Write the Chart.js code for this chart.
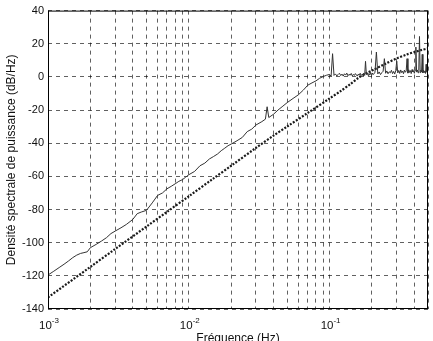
<!DOCTYPE html>
<html>
<head>
<meta charset="utf-8">
<script src="https://cdn.jsdelivr.net/npm/chart.js@4"></script>
<style>
  body { margin: 0; background: #fff; }
  canvas { display: block; }
</style>
</head>
<body>
<canvas id="dspChart" width="433" height="341"></canvas>
<script>
// Fréquences (Hz) et DSP mesurée (dB/Hz) - trait continu
const freqSolid = [
  0.0010, 0.0011, 0.0012, 0.0013, 0.0014, 0.0015, 0.0016, 0.0017, 0.0018, 0.0019,
  0.0020, 0.0022, 0.0024, 0.0026, 0.0028, 0.0030, 0.0033, 0.0036, 0.0040, 0.0043,
  0.0046, 0.0050, 0.0055, 0.0060, 0.0065, 0.0070, 0.0075, 0.0080, 0.0085, 0.0090,
  0.0095, 0.010, 0.011, 0.012, 0.013, 0.014, 0.015, 0.016, 0.017, 0.018,
  0.019, 0.020, 0.022, 0.024, 0.026, 0.028, 0.030, 0.033, 0.035, 0.036,
  0.037, 0.040, 0.043, 0.046, 0.050, 0.055, 0.060, 0.065, 0.070, 0.075,
  0.080, 0.085, 0.090, 0.095,
  0.1000, 0.1025, 0.1050, 0.1075, 0.1100, 0.1125, 0.1150, 0.1175, 0.1200, 0.1225,
  0.1250, 0.1275, 0.1300, 0.1325, 0.1350, 0.1375, 0.1400, 0.1425, 0.1450, 0.1475,
  0.1500, 0.1525, 0.1550, 0.1575, 0.1600, 0.1625, 0.1650, 0.1675, 0.1700, 0.1725,
  0.1750, 0.1775, 0.1800, 0.1825, 0.1850, 0.1875, 0.1900, 0.1925, 0.1950, 0.1975,
  0.2000, 0.205, 0.210, 0.215, 0.220, 0.225, 0.230, 0.235, 0.240, 0.245,
  0.250, 0.255, 0.260, 0.265, 0.270, 0.275, 0.280, 0.285, 0.290, 0.295,
  0.300, 0.305, 0.310, 0.315, 0.320, 0.325, 0.330, 0.335, 0.340, 0.345,
  0.350, 0.355, 0.360, 0.365, 0.370, 0.375, 0.380, 0.385, 0.390, 0.395,
  0.400, 0.405, 0.410, 0.415, 0.420, 0.425, 0.430, 0.435, 0.440, 0.445,
  0.450, 0.455, 0.460, 0.465, 0.470, 0.475, 0.480, 0.485, 0.490, 0.495,
  0.500
];
const psdSolid = [
  -119.5, -117.2, -115, -113, -111, -109, -107.5, -106.5, -106, -105.5,
  -103, -101, -99, -97, -94.5, -93, -91, -89, -86, -82.5,
  -81.5, -80.5, -76, -71.5, -70, -67.5, -66, -64.5, -63, -62,
  -60.5, -59, -57, -53.6, -52, -49.5, -48, -46.5, -44.5, -43,
  -41.5, -40.5, -38.5, -36.5, -33, -31.5, -29, -27, -25.5, -18,
  -24.5, -22.5, -20, -18, -15.5, -13, -10.8, -8, -5, -3.6,
  -2.4, -0.8, 0.2, 1.0,
  1.5, 0.4, 14, 0.9, 1.8, 0.6, 1.4, 2.2, 0.8, 1.7,
  0.5, 1.9, 1.1, 2.3, 0.7, 1.6, 1.0, 2.1, 0.6, 1.5,
  0.9, 2.0, 1.2, 0.5, 1.7, 1.0, 2.2, 0.8, 1.6, 1.1,
  2.3, 1.0, 9.4, 1.4, 2.5, 0.9, 2.0, 1.3, 2.7, 1.1,
  2.4, 1.5, 2.8, 15, 1.8, 3.0, 1.4, 2.6, 3.4, 11,
  2.2, 3.6, 1.9, 3.1, 2.5, 4.0, 2.0, 3.3, 1.7, 3.8,
  9.5, 2.4, 3.9, 2.1, 4.2, 2.6, 3.5, 1.9, 4.1, 2.8,
  3.6, 11, 2.3, 4.3, 2.7, 3.8, 2.0, 4.4, 3.0, 3.7,
  2.2, 4.0, 18, 2.9, 4.2, 2.5, 3.9, 24.4, 2.6, 4.1,
  3.0, 13.6, 2.4, 4.0, 2.8, 3.6, 2.1, 7.6, 3.2, 2.4,
  3.0
];

// Modèle théorique (trait pointillé)
const freqModel = [
  0.001, 0.002, 0.003, 0.005, 0.007, 0.01, 0.015, 0.02, 0.03, 0.04,
  0.05, 0.07, 0.1, 0.12, 0.14, 0.16, 0.18, 0.2, 0.25, 0.3,
  0.35, 0.4, 0.45, 0.5
];
const psdModel = [
  -133, -114.6, -103.8, -90.3, -81.4, -72, -61.2, -53.6, -42.8, -35.4,
  -29.9, -21.7, -13, -8.5, -4.4, -0.6, 2, 3.8, 8, 11.2,
  13.4, 15, 16.2, 17.2
];

// Graduations
const xTicks = [
  0.001, 0.002, 0.003, 0.004, 0.005, 0.006, 0.007, 0.008, 0.009,
  0.01, 0.02, 0.03, 0.04, 0.05, 0.06, 0.07, 0.08, 0.09,
  0.1, 0.2, 0.3, 0.4, 0.5
];
const xDecades = [0.001, 0.01, 0.1];
const xExponents = ['-3', '-2', '-1'];
const yMin = -140, yMax = 40, yStep = 20;

const fontFamily = '"Liberation Sans", Arial, Helvetica, sans-serif';

// cadre noir + étiquettes 10^n avec exposant
const boxPlugin = {
  id: 'box',
  afterDraw(chart) {
    const { ctx, chartArea: a } = chart;
    const xs = chart.scales.x;
    ctx.save();
    ctx.strokeStyle = '#000';
    ctx.lineWidth = 1;
    ctx.strokeRect(a.left + 0.5, a.top + 0.5, a.right - a.left - 1, a.bottom - a.top - 1);

    ctx.fillStyle = '#111';
    ctx.textBaseline = 'alphabetic';
    xDecades.forEach((v, i) => {
      const px = xs.getPixelForValue(v);
      ctx.font = '11.5px ' + fontFamily;
      const baseW = ctx.measureText('10').width;
      ctx.font = '8px ' + fontFamily;
      const expW = ctx.measureText(xExponents[i]).width;
      const left = px - (baseW + expW) / 2 + 1;
      ctx.font = '11.5px ' + fontFamily;
      ctx.textAlign = 'left';
      ctx.fillText('10', left, a.bottom + 20);
      ctx.font = '8px ' + fontFamily;
      ctx.fillText(xExponents[i], left + baseW, a.bottom + 14);
    });
    ctx.restore();
  }
};

const toPoints = (xs, ys) => xs.map((x, i) => ({ x: x, y: ys[i] }));

new Chart(document.getElementById('dspChart'), {
  type: 'line',
  data: {
    datasets: [
      {
        label: 'Mesure',
        data: toPoints(freqSolid, psdSolid),
        borderColor: '#333',
        borderWidth: 1,
        pointRadius: 0,
        tension: 0
      },
      {
        label: 'Modèle',
        data: toPoints(freqModel, psdModel),
        borderColor: '#1a1a1a',
        borderWidth: 2.2,
        borderDash: [2, 1.5],
        pointRadius: 0,
        tension: 0.3
      }
    ]
  },
  plugins: [boxPlugin],
  options: {
    responsive: false,
    animation: false,
    layout: { padding: { top: 9, right: 5, left: 0, bottom: 0 } },
    plugins: {
      legend: { display: false },
      tooltip: { enabled: false }
    },
    scales: {
      x: {
        type: 'logarithmic',
        min: 0.001,
        max: 0.5,
        afterBuildTicks(scale) {
          scale.ticks = xTicks.map(v => ({ value: v }));
        },
        afterFit(scale) { scale.height = 32; },
        ticks: {
          autoSkip: false,
          maxRotation: 0,
          callback: () => ''
        },
        grid: {
          color: 'rgba(0,0,0,0.62)',
          lineWidth: 1,
          drawTicks: false
        },
        border: { display: false, dash: [4, 4] },
        title: {
          display: true,
          text: 'Fréquence (Hz)',
          color: '#111',
          font: { family: fontFamily, size: 12 },
          padding: { top: 0, bottom: -5 }
        }
      },
      y: {
        min: yMin,
        max: yMax,
        afterFit(scale) { scale.width = 48; },
        ticks: {
          stepSize: yStep,
          padding: 4,
          color: '#111',
          font: { family: fontFamily, size: 11 }
        },
        grid: {
          color: 'rgba(0,0,0,0.62)',
          lineWidth: 1,
          drawTicks: false
        },
        border: { display: false, dash: [4, 4] },
        title: {
          display: true,
          text: 'Densité spectrale de puissance (dB/Hz)',
          color: '#111',
          font: { family: fontFamily, size: 12 },
          padding: { top: 4, bottom: 0 }
        }
      }
    }
  }
});
</script>
</body>
</html>
